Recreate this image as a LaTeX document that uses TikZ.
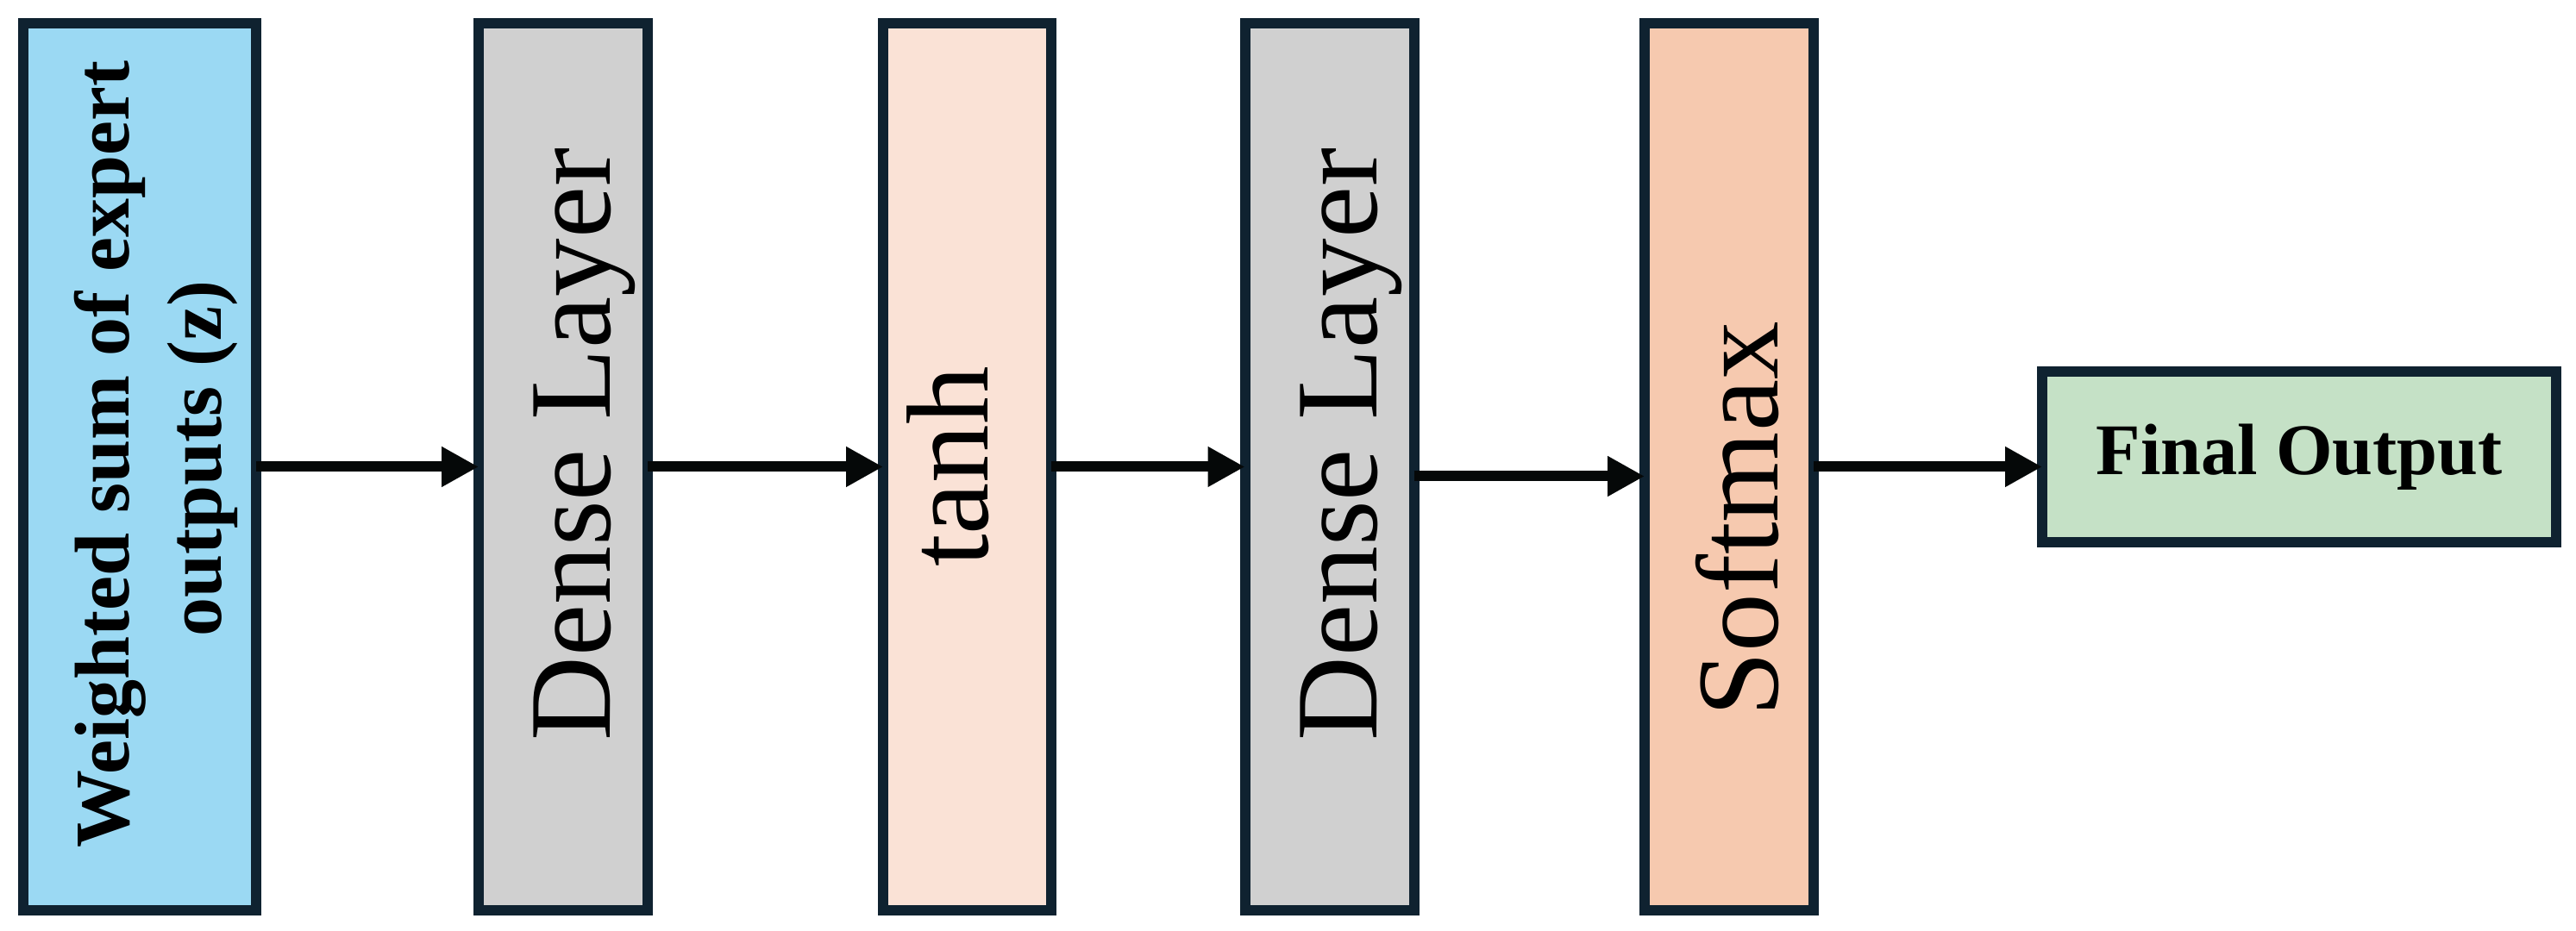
\documentclass[tikz,border=0pt]{standalone}
\usepackage{fontspec}
\setmainfont{Liberation Serif}
\usetikzlibrary{arrows.meta}
\definecolor{edgenavy}{HTML}{0F2230}
\definecolor{inkblack}{HTML}{050808}
\definecolor{zblue}{HTML}{9BD9F3}
\definecolor{densegray}{HTML}{D0D0D0}
\definecolor{tanhpink}{HTML}{FAE2D6}
\definecolor{softpeach}{HTML}{F6C9AF}
\definecolor{outgreen}{HTML}{C5E1C6}
\tikzset{
  layer/.style={draw=edgenavy, line width=0.12cm, rotate=90, outer sep=0pt, inner sep=0pt,
    minimum width=10.29cm, minimum height=1.96cm, text height=1.09cm, text depth=0pt,
    font=\fontsize{38.5}{46}\selectfont},
  flow/.style={inkblack, line width=0.12cm, -{Triangle[length=0.43cm,width=0.44cm]}}
}

\begin{document}
\begin{tikzpicture}
   \useasboundingbox (0,0) rectangle (29.87,10.80);
   \node[layer, fill=zblue, minimum height=2.70cm, align=center, text height=1.89cm,
     font=\bfseries\fontsize{25.6}{30.5}\selectfont] (wsum) at (1.62,5.385)
     {\hspace*{0.29cm}Weighted sum of expert\\\hspace*{0.19cm}outputs (z)};
   \node[layer, fill=densegray] (dense1) at (6.53,5.385) {\hspace*{0.52cm}Dense Layer};
   \node[layer, fill=tanhpink, minimum height=1.95cm, text height=0.47cm] (tanh) at (11.215,5.385) {tanh};
   \node[layer, fill=densegray] (dense2) at (15.415,5.385) {\hspace*{0.52cm}Dense Layer};
   \node[layer, fill=softpeach, text height=1.12cm] (soft) at (20.05,5.385) {Softmax\hspace*{1.22cm}};
   \node[draw=edgenavy, fill=outgreen, line width=0.12cm, outer sep=0pt,
     minimum width=5.96cm, minimum height=1.98cm, font=\bfseries\fontsize{24}{29}\selectfont]
     (final) at (26.66,5.50) {Final Output};
   \foreach \a/\b in {wsum/dense1, dense1/tanh, tanh/dense2} {
     \draw[flow] (\a) -- (\b);
   }
   \draw[flow] ([yshift=-0.11cm]dense2.south) -- ([yshift=-0.11cm]dense2.south -| soft.north);
   \draw[flow] (soft.south) -- (soft.south -| final.west);
\end{tikzpicture}
\end{document}
